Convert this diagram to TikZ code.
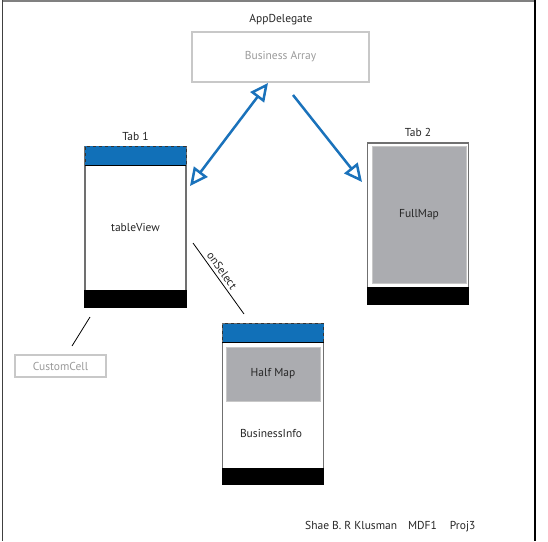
\documentclass[tikz,border=0pt]{standalone}
\usepackage{fontspec}
\setmainfont{PT Sans}
\usetikzlibrary{arrows.meta, positioning}
\definecolor{tabblue}{HTML}{1170B8}
\definecolor{arrowblue}{HTML}{1A72BB}
\definecolor{mapgray}{HTML}{ABACB0}
\definecolor{phonegray}{HTML}{707070}
\definecolor{boxgray}{HTML}{C8C8C8}
\definecolor{textgray}{HTML}{9A9A9A}

\begin{document}
\begin{tikzpicture}[
x=1pt, y=-1pt,
every node/.style={font=\fontsize{11.5}{13}\selectfont, inner sep=0pt, text=black!85},
phone/.style={draw=phonegray,
fill=white,
line width=1.4pt,
minimum width=101pt,
minimum height=161pt},
header/.style={draw=black!80,
dashed,
line width=0.5pt,
fill=tabblue,
minimum width=101pt,
minimum height=19pt,
anchor=north},
footer/.style={fill=black,
minimum width=102.4pt,
minimum height=18pt,
anchor=south},
map/.style={draw=boxgray,
fill=mapgray,
line width=0.8pt},
plainbox/.style={draw=boxgray,
line width=1.2pt,
text=textgray},
arrow/.style={{Triangle[open, length=18pt, width=17pt, fill=white]}-{Triangle[open, length=18pt, width=17pt, fill=white]},
arrowblue, line width=2.5pt},
onearrow/.style={-{Triangle[open, length=18pt, width=17pt, fill=white]},
arrowblue, line width=2.5pt}
]
\useasboundingbox (0,0) rectangle (548,541);

% frame
\draw[gray, line width=2pt] (2,1) -- (535,1);
\draw[black!75, line width=1.5pt] (2.5,0) -- (2.5,541);
\draw[black, line width=1.5pt] (535,0) -- (535,541);

% app delegate
\node (appdel) at (281,20) {AppDelegate};
\node[plainbox, minimum width=177pt, minimum height=50pt] (bizarray) at (280.5,57) {Business Array};

% tab 1
\node[phone] (tab1) at (135.5,227) {tableView};
\node[header] (tab1head) at (tab1.north) {};
\draw[line width=1pt] (tab1head.south west) -- (tab1head.south east);
\node[footer] (tab1foot) at (tab1.south) {};
\node[above=5pt of tab1] (tab1lbl) {Tab 1};

% tab 2
\node[phone, minimum height=161pt] (tab2) at (418,223.5) {};
\node[map, minimum width=94pt, minimum height=137pt] (fullmap) at (419,214.5) {FullMap};
\node[footer] (tab2foot) at (tab2.south) {};
\node[above=5pt of tab2] (tab2lbl) {Tab 2};

% business info
\node[phone, minimum height=160pt] (info) at (273,404) {};
\node[header] (infohead) at (info.north) {};
\draw[line width=1pt] (infohead.south west) -- (infohead.south east);
\node[map, minimum width=94pt, minimum height=54pt] (halfmap) at (273,374) {Half Map};
\node (bizinfo) at (271,433) {BusinessInfo};
\node[footer, minimum height=17pt] (infofoot) at (info.south) {};

% custom cell
\node[plainbox, minimum width=91pt, minimum height=22pt] (cell) at (60.5,366) {CustomCell};

% connectors
\coordinate (arr1a) at (268,83);
\coordinate (arr1b) at (190,186);
\coordinate (arr2a) at (293,95);
\coordinate (arr2b) at (362,182);
\coordinate (sel1) at (193,243);
\coordinate (sel2) at (244,314);
\coordinate (cell1) at (90,317);
\coordinate (cell2) at (72,346);

\draw[arrow] (arr1a) -- (arr1b);
\draw[onearrow] (arr2a) -- (arr2b);
\draw[line width=0.8pt] (sel1) -- node[pos=0.45, sloped, above=3pt] {onSelect} (sel2);
\draw[line width=0.8pt] (cell1) -- (cell2);

% credits
\node[anchor=west] (credit) at (305,527) {Shae B. R Klusman\hspace{11pt}MDF1\hspace{13pt}Proj3};

\end{tikzpicture}
\end{document}
